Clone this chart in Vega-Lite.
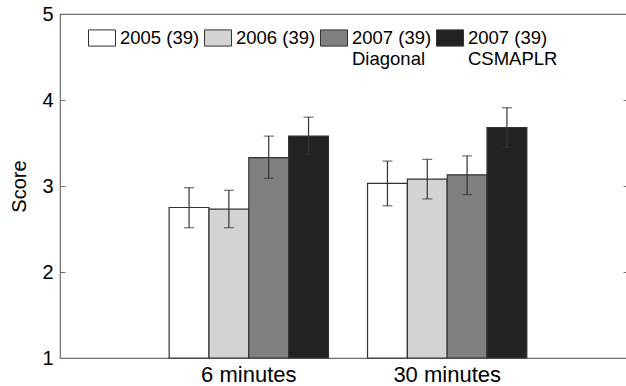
{
  "$schema": "https://vega.github.io/schema/vega-lite/v6.json",
  "width": 568,
  "height": 344,
  "autosize": "none",
  "padding": {"left": 60, "top": 14, "right": 0, "bottom": 28},
  "background": "white",
  "config": {
    "font": "Liberation Sans",
    "view": {"stroke": "#6e6e6e", "strokeWidth": 1.2},
    "axis": {"domain": false, "grid": false}
  },
  "data": {
    "values": [
      {"time": "6 minutes", "group": "2005 (39)", "score": 2.75, "lo": 2.515, "hi": 2.98},
      {"time": "6 minutes", "group": "2006 (39)", "score": 2.73, "lo": 2.515, "hi": 2.95},
      {"time": "6 minutes", "group": "2007 (39) Diagonal", "score": 3.33, "lo": 3.09, "hi": 3.58},
      {"time": "6 minutes", "group": "2007 (39) CSMAPLR", "score": 3.58, "lo": 3.37, "hi": 3.80},
      {"time": "30 minutes", "group": "2005 (39)", "score": 3.03, "lo": 2.77, "hi": 3.29},
      {"time": "30 minutes", "group": "2006 (39)", "score": 3.08, "lo": 2.85, "hi": 3.31},
      {"time": "30 minutes", "group": "2007 (39) Diagonal", "score": 3.13, "lo": 2.90, "hi": 3.35},
      {"time": "30 minutes", "group": "2007 (39) CSMAPLR", "score": 3.68, "lo": 3.45, "hi": 3.91}
    ]
  },
  "encoding": {
    "x": {
      "field": "time", "type": "nominal", "sort": ["6 minutes", "30 minutes"],
      "scale": {"paddingInner": 0.197, "paddingOuter": 0.53, "align": 0.519},
      "axis": {"title": null, "labelAngle": 0, "ticks": false, "labelFontSize": 22, "labelColor": "black", "labelPadding": 6}
    },
    "xOffset": {
      "field": "group", "type": "nominal",
      "sort": ["2005 (39)", "2006 (39)", "2007 (39) Diagonal", "2007 (39) CSMAPLR"],
      "scale": {"paddingInner": 0, "paddingOuter": 0}
    }
  },
  "layer": [
    {
      "mark": {"type": "bar", "stroke": "#333333", "strokeWidth": 1.2},
      "encoding": {
        "y": {
          "field": "score", "type": "quantitative",
          "scale": {"domain": [1, 5], "nice": false, "zero": false},
          "axis": {"orient": "left", "values": [1, 2, 3, 4, 5], "title": "Score", "titleFontSize": 20, "titleFontWeight": "normal", "titleColor": "black", "titlePadding": 12, "labelFontSize": 20, "labelColor": "black", "tickSize": -5, "tickColor": "#6e6e6e", "labelPadding": 12}
        },
        "y2": {"datum": 1},
        "fill": {
          "field": "group", "type": "nominal",
          "sort": ["2005 (39)", "2006 (39)", "2007 (39) Diagonal", "2007 (39) CSMAPLR"],
          "scale": {"range": ["#ffffff", "#d3d3d3", "#808080", "#222222"]},
          "legend": {
            "title": null, "orient": "none", "legendX": 28, "legendY": 10,
            "direction": "horizontal", "columns": 4, "columnPadding": 2,
            "symbolType": "M-1,-0.6H1V0.6H-1Z", "symbolSize": 729,
            "symbolStrokeColor": "#333333", "symbolStrokeWidth": 1,
            "labelFontSize": 18.5, "labelColor": "black", "labelOffset": 4, "labelLimit": 200,
            "labelExpr": "datum.label == '2007 (39) Diagonal' ? ['2007 (39)', 'Diagonal'] : datum.label == '2007 (39) CSMAPLR' ? ['2007 (39)', 'CSMAPLR'] : [datum.label, ' ']"
          }
        }
      }
    },
    {
      "mark": {"type": "rule", "color": "#333333", "strokeWidth": 1.2},
      "encoding": {
        "y": {"field": "lo", "type": "quantitative", "scale": {"domain": [1, 5]},
          "axis": {"orient": "right", "values": [1, 2, 3, 4, 5], "labels": false, "title": null, "tickSize": -5, "tickColor": "#6e6e6e"}},
        "y2": {"field": "hi"}
      }
    },
    {
      "mark": {"type": "tick", "orient": "horizontal", "size": 10, "thickness": 1.2, "color": "#333333"},
      "encoding": {"y": {"field": "lo", "type": "quantitative", "axis": null}}
    },
    {
      "mark": {"type": "tick", "orient": "horizontal", "size": 10, "thickness": 1.2, "color": "#333333"},
      "encoding": {"y": {"field": "hi", "type": "quantitative", "axis": null}}
    }
  ],
  "resolve": {"axis": {"y": "independent"}}
}
